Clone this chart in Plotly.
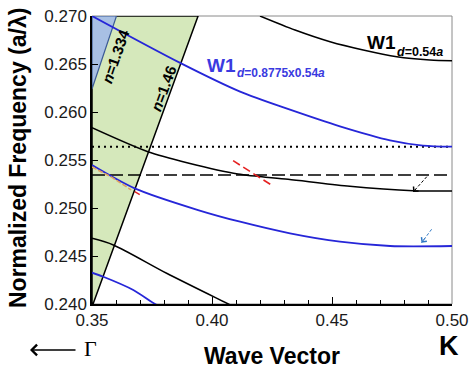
import plotly.graph_objects as go

# ---------------- data ----------------
# light lines (endpoints)
n146_k = [0.35, 0.3942]
n146_f = [0.2397, 0.2700]
n1334_k = [0.35, 0.3602]
n1334_f = [0.2624, 0.2700]

# W1 d=0.54a bands (black)
blkA_k = [0.420, 0.4346, 0.4492, 0.4630, 0.4770, 0.4908, 0.500]
blkA_f = [0.2700, 0.26854, 0.26732, 0.26646, 0.26576, 0.26542, 0.26534]
blkB_k = [0.350, 0.3733, 0.390, 0.4108, 0.4317, 0.4563, 0.4838, 0.500]
blkB_f = [0.25836, 0.25586, 0.25469, 0.25354, 0.25299, 0.25229, 0.25180, 0.25177]
blkC_k = [0.350, 0.3589, 0.3811, 0.4068, 0.410]
blkC_f = [0.24684, 0.24615, 0.24320, 0.2400, 0.2396]

# W1 d=0.8775x0.54a bands (blue)
bluA_k = [0.350, 0.3865, 0.4117, 0.4325, 0.4533, 0.4742, 0.4879, 0.500]
bluA_f = [0.2700, 0.26514, 0.26212, 0.26024, 0.25851, 0.25705, 0.25650, 0.25639]
bluB_k = [0.350, 0.3678, 0.3942, 0.4117, 0.4325, 0.4533, 0.4742, 0.500]
bluB_f = [0.25448, 0.25205, 0.24979, 0.24857, 0.24736, 0.24649, 0.24604, 0.24604]
bluC_k = [0.350, 0.3547, 0.3672, 0.3763, 0.380]
bluC_f = [0.24326, 0.24284, 0.24146, 0.2400, 0.2396]

# orange dashed trace along the second blue band, and small red dashes
org_k = [0.350, 0.3583, 0.3663]
org_f = [0.25427, 0.25320, 0.25188]
redS_k = [0.3678, 0.3699]
redS_f = [0.25170, 0.25140]
red_k = [0.4088, 0.4247]
red_f = [0.25493, 0.25240]

# horizontal reference levels
dot_level = 0.25639
dash_level = 0.25344

# small arrows (tail, head)
arrK_tail = (0.4895, 0.25326)
arrK_head = (0.4838, 0.25167)
arrB_tail = (0.4915, 0.24778)
arrB_head = (0.4873, 0.24638)

x_range = [0.35, 0.50]
y_range = [0.240, 0.270]
y_ticks = [0.240, 0.245, 0.250, 0.255, 0.260, 0.265, 0.270]
x_ticks = [0.35, 0.40, 0.45, 0.50]

BLUE = "#2626d8"
GREEN_FILL = "#d5e8bb"
BLUE_FILL = "#a8c0e4"
FONT = "Arial, Liberation Sans, sans-serif"

fig = go.Figure()

# green region above n=1.46 light line
fig.add_trace(go.Scatter(
    x=[n146_k[0], n146_k[1], n146_k[0], n146_k[0]],
    y=[n146_f[0], n146_f[1], n146_f[1], n146_f[0]],
    fill="toself", fillcolor=GREEN_FILL, mode="lines",
    line=dict(color="black", width=1.5), hoverinfo="skip"))
# blue region above n=1.334 light line
fig.add_trace(go.Scatter(
    x=[n1334_k[0], n1334_k[1], n1334_k[0], n1334_k[0]],
    y=[n1334_f[0], n1334_f[1], n1334_f[1], n1334_f[0]],
    fill="toself", fillcolor=BLUE_FILL, mode="lines",
    line=dict(color="#3b5a95", width=1.2), hoverinfo="skip"))

# horizontal reference lines
fig.add_trace(go.Scatter(x=x_range, y=[dot_level, dot_level], mode="lines",
                         line=dict(color="black", width=2, dash="2px,4px")))
fig.add_trace(go.Scatter(x=x_range, y=[dash_level, dash_level], mode="lines",
                         line=dict(color="black", width=1.5, dash="13px,5px")))

# bands
for kk, ff in [(blkA_k, blkA_f), (blkB_k, blkB_f), (blkC_k, blkC_f)]:
    fig.add_trace(go.Scatter(x=kk, y=ff, mode="lines",
                             line=dict(color="black", width=1.5, shape="spline", smoothing=0.8)))
for kk, ff in [(bluA_k, bluA_f), (bluB_k, bluB_f), (bluC_k, bluC_f)]:
    fig.add_trace(go.Scatter(x=kk, y=ff, mode="lines",
                             line=dict(color=BLUE, width=1.8, shape="spline", smoothing=0.8)))

fig.add_trace(go.Scatter(x=org_k, y=org_f, mode="lines",
                         line=dict(color="#e0a060", width=1.5, dash="5px,2px")))
fig.add_trace(go.Scatter(x=redS_k, y=redS_f, mode="lines",
                         line=dict(color="#e02020", width=1.5)))
fig.add_trace(go.Scatter(x=red_k, y=red_f, mode="lines",
                         line=dict(color="#e52222", width=1.6, dash="8px,4px")))

# dashed arrow shafts
fig.add_trace(go.Scatter(x=[arrK_tail[0], arrK_head[0]], y=[arrK_tail[1], arrK_head[1]],
                         mode="lines", line=dict(color="black", width=1, dash="3px,2px")))
fig.add_trace(go.Scatter(x=[arrB_tail[0], arrB_head[0]], y=[arrB_tail[1], arrB_head[1]],
                         mode="lines", line=dict(color="#2f78c4", width=1, dash="3px,2px")))

ann = []
ann.append(dict(x=arrK_head[0], y=arrK_head[1], xref="x", yref="y", ax=4, ay=-4.5,
                text="", showarrow=True, arrowhead=4, arrowsize=1.3, arrowwidth=1,
                arrowcolor="black"))
ann.append(dict(x=arrB_head[0], y=arrB_head[1], xref="x", yref="y", ax=4.5, ay=-6,
                text="", showarrow=True, arrowhead=4, arrowsize=1.3, arrowwidth=1,
                arrowcolor="#2f78c4"))

# light-line labels
ann.append(dict(x=0.3596, y=0.26583, xref="x", yref="y", showarrow=False, textangle=-70.8,
                text="<b><i>n</i>=1.334</b>", font=dict(family=FONT, size=15, color="black"),
                xanchor="center", yanchor="middle"))
ann.append(dict(x=0.3798, y=0.26245, xref="x", yref="y", showarrow=False, textangle=-69.8,
                text="<b><i>n</i>=1.46</b>", font=dict(family=FONT, size=15, color="black"),
                xanchor="center", yanchor="middle"))

# band labels (pixel->paper helpers)
def px(xp):
    return (xp - 92) / 360.0
def py(yp):
    return (304 - yp) / 288.0

ann.append(dict(x=px(381), y=py(42.5), xref="paper", yref="paper", showarrow=False,
                text="<b>W1</b>", font=dict(family=FONT, size=19, color="black"),
                xanchor="center", yanchor="middle"))
ann.append(dict(x=px(395), y=py(52), xref="paper", yref="paper", showarrow=False,
                text="<b><i>d</i>=0.54<i>a</i></b>", font=dict(family=FONT, size=12.5, color="black"),
                xanchor="left", yanchor="middle"))
ann.append(dict(x=px(221.5), y=py(65.5), xref="paper", yref="paper", showarrow=False,
                text="<b>W1</b>", font=dict(family=FONT, size=19, color="#3a3ae0"),
                xanchor="center", yanchor="middle"))
ann.append(dict(x=px(235), y=py(73), xref="paper", yref="paper", showarrow=False,
                text="<b><i>d</i>=0.8775x0.54<i>a</i></b>", font=dict(family=FONT, size=12, color="#3a3ae0"),
                xanchor="left", yanchor="middle"))

# axis titles
ann.append(dict(x=px(18), y=py(158), xref="paper", yref="paper", showarrow=False, textangle=-90,
                text="<b>Normalized Frequency (a/λ)</b>", font=dict(family=FONT, size=23, color="black"),
                xanchor="center", yanchor="middle"))
ann.append(dict(x=px(271.5), y=py(356), xref="paper", yref="paper", showarrow=False,
                text="<b>Wave Vector</b>", font=dict(family=FONT, size=23, color="black"),
                xanchor="center", yanchor="middle"))
ann.append(dict(x=px(449), y=py(346), xref="paper", yref="paper", showarrow=False,
                text="<b>K</b>", font=dict(family=FONT, size=27, color="black"),
                xanchor="center", yanchor="middle"))
ann.append(dict(x=px(90), y=py(348), xref="paper", yref="paper", showarrow=False,
                text="Γ", font=dict(family="Liberation Serif, serif", size=22, color="black"),
                xanchor="center", yanchor="middle"))
ann.append(dict(x=px(30), y=py(350), xref="paper", yref="paper", ax=47, ay=0,
                text="", showarrow=True, arrowhead=4, arrowsize=1.6, arrowwidth=1.3,
                arrowcolor="black"))

fig.update_layout(
    width=474, height=368,
    margin=dict(l=92, r=22, t=16, b=64, autoexpand=False),
    paper_bgcolor="white", plot_bgcolor="white",
    showlegend=False,
    annotations=ann,
    shapes=[dict(type="rect", xref="paper", yref="paper", x0=0, y0=0, x1=1, y1=1,
                 line=dict(color="#8a8a8a", width=1), layer="below")],
    font=dict(family=FONT, color="#1a1a1a"),
)
fig.update_xaxes(range=x_range, tickvals=x_ticks, tickformat=".2f",
                 ticks="inside", ticklen=7, tickwidth=1, tickcolor="black",
                 minor=dict(dtick=0.01, ticks="inside", ticklen=4, tickcolor="black"),
                 showline=True, linecolor="black", linewidth=1.5, showgrid=False, zeroline=False,
                 automargin=False,
                 tickfont=dict(family=FONT, size=17, color="#1a1a1a"))
fig.update_yaxes(range=y_range, tickvals=y_ticks, tickformat=".3f",
                 ticks="inside", ticklen=6, tickwidth=1, tickcolor="black",
                 showline=True, linecolor="black", linewidth=1.5, showgrid=False, zeroline=False,
                 automargin=False,
                 tickfont=dict(family=FONT, size=17, color="#1a1a1a"))

fig.write_html("out.html", config={"displayModeBar": False},
               post_script="document.body.style.margin='0';document.body.style.overflow='hidden';")
